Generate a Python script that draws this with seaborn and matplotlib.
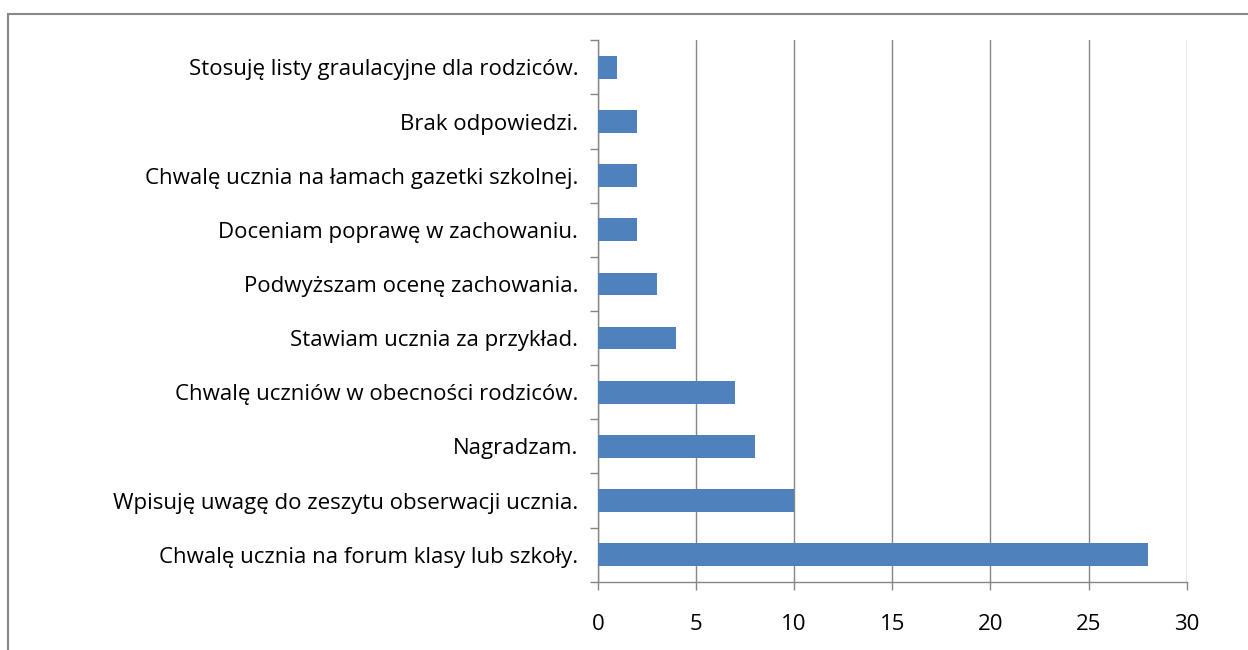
import matplotlib.pyplot as plt
import matplotlib.patches as patches
import seaborn as sns
import pandas as pd
import numpy as np

# Data (top to bottom)
labels = [
    "Stosuję listy graulacyjne dla rodziców.",
    "Brak odpowiedzi.",
    "Chwalę ucznia na łamach gazetki szkolnej.",
    "Doceniam poprawę w zachowaniu.",
    "Podwyższam ocenę zachowania.",
    "Stawiam ucznia za przykład.",
    "Chwalę uczniów w obecności rodziców.",
    "Nagradzam.",
    "Wpisuję uwagę do zeszytu obserwacji ucznia.",
    "Chwalę ucznia na forum klasy lub szkoły.",
]
counts = [1, 2, 2, 2, 3, 4, 7, 8, 10, 28]
x_ticks = [0, 5, 10, 15, 20, 25, 30]

df = pd.DataFrame({"label": labels, "count": counts})

sns.set_style("white")
plt.rcParams["font.family"] = ["Open Sans", "DejaVu Sans"]

fig = plt.figure(figsize=(12.48, 6.5), dpi=100)
ax = fig.add_axes([0.479, 0.105, 0.472, 0.833])

# outer chart frame (only top/left visible in the reference)
fig.patches.append(patches.Rectangle((8 / 1248, -0.1), 1.2, 1.1 - 14 / 650,
                                     transform=fig.transFigure, fill=False,
                                     edgecolor="#888888", linewidth=1.5))

sns.barplot(data=df, y="label", x="count", color="#4F81BD", saturation=1,
            width=0.42, linewidth=0, ax=ax, zorder=3)

grid_col = "#868686"
ax.set_xlim(0, 30)
ax.set_ylim(len(labels) - 0.5, -0.5)
ax.set_xticks(x_ticks)
ax.xaxis.grid(True, color=grid_col, linewidth=1, zorder=0)
ax.set_xlabel("")
ax.set_ylabel("")

for s in ["top", "right"]:
    ax.spines[s].set_visible(False)
for s in ["left", "bottom"]:
    ax.spines[s].set_color(grid_col)
    ax.spines[s].set_linewidth(1)

# y ticks at category boundaries, labels centred
ax.set_yticks(np.arange(len(labels)))
ax.set_yticklabels(labels, fontsize=16, color="black")
ax.set_yticks(np.arange(len(labels) + 1) - 0.5, minor=True)
ax.tick_params(axis="y", which="major", length=0, pad=14)
ax.tick_params(axis="y", which="minor", length=6, width=1, color=grid_col, left=True)
ax.tick_params(axis="x", length=6, width=1, color=grid_col, bottom=True,
               labelsize=16, labelcolor="black", pad=17)

fig.savefig("out.png", dpi=100)
